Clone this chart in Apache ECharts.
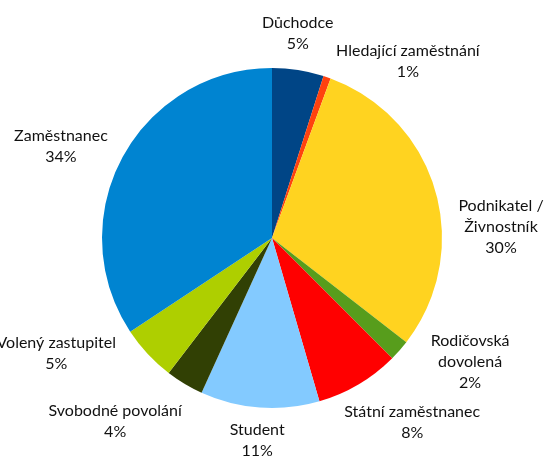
<!DOCTYPE html>
<html>
<head>
<meta charset="utf-8">
<script src="https://cdn.jsdelivr.net/npm/echarts@6/dist/echarts.min.js"></script>
<style>
  html, body { margin: 0; padding: 0; background: #fff; }
  #chart { width: 544px; height: 456px; }
</style>
</head>
<body>
<div id="chart"></div>
<script>
// categories and shares (percent), clockwise from 12 o'clock
var categories = ['Důchodce', 'Hledající zaměstnání', 'Podnikatel /\nŽivnostník', 'Rodičovská\ndovolená',
  'Státní zaměstnanec', 'Student', 'Svobodné povolání', 'Volený zastupitel', 'Zaměstnanec'];
var shares = [4.9, 0.7, 29.9, 2.0, 8.0, 11.3, 3.6, 5.3, 34.3];
var colors = ['#004586', '#ff420e', '#ffd320', '#579d1c', '#ff0000', '#83caff', '#314004', '#aecf00', '#0084d1'];

// hand nudges for labels (px), on top of the radial placement
var labelNudge = [[-7, -8], [55, 12], [17, 47], [35, -15], [15, 13], [0, 4], [-31, 13], [-42, -20], [-13, 3]];

var chart = echarts.init(document.getElementById('chart'));

var pieData = categories.map(function (name, i) {
  return { name: name, value: shares[i], itemStyle: { color: colors[i] } };
});

chart.setOption({
  animation: false,
  series: [{
    type: 'pie',
    center: [272, 238],
    radius: 170,
    startAngle: 90,
    clockwise: true,
    avoidLabelOverlap: false,
    itemStyle: { borderWidth: 0 },
    label: {
      show: true,
      position: 'outside',
      fontFamily: 'Lato',
      fontSize: 16,
      lineHeight: 21,
      color: '#111',
      align: 'center',
      formatter: function (p) {
        return p.name + '\n' + Math.round(p.percent) + '%';
      }
    },
    labelLine: { show: true, length: 10, length2: 0, lineStyle: { opacity: 0 } },
    labelLayout: function (p) {
      var pts = p.labelLinePoints;
      var x0 = pts[0][0], y0 = pts[0][1];
      var dx = pts[1][0] - x0, dy = pts[1][1] - y0;
      var len = Math.sqrt(dx * dx + dy * dy) || 1;
      dx /= len; dy /= len;
      var w = p.labelRect.width, h = p.labelRect.height;
      var gap = 8;
      var n = labelNudge[p.dataIndex];
      return {
        x: x0 + dx * (gap + w / 2) + n[0],
        y: y0 + dy * (gap + h / 2) + n[1],
        align: 'center',
        verticalAlign: 'middle'
      };
    },
    data: pieData
  }]
});
</script>
</body>
</html>
